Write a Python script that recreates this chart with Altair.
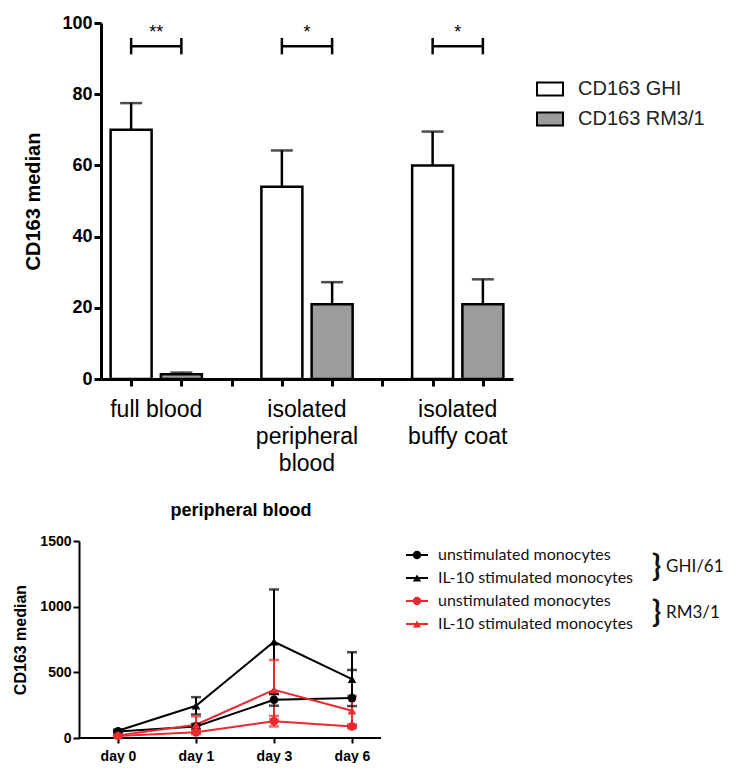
import json
import altair as alt
import pandas as pd

# ---------------- top panel data ----------------
groups = ["full blood", "isolated\nperipheral\nblood", "isolated\nbuffy coat"]
antibodies = ["CD163 GHI", "CD163 RM3/1"]
ghi_means = [70.0, 54.0, 60.0]
ghi_errs = [7.5, 10.2, 9.5]
rm_means = [1.3, 21.0, 21.0]
rm_errs = [0.5, 6.2, 7.0]
sig_labels = ["**", "*", "*"]
sig_level = 93.5
sig_half = 2.3
star_level = 97.3

# ---------------- bottom panel data ----------------
days = ["day 0", "day 1", "day 3", "day 6"]
series_names = ["GHI unstim", "GHI IL-10", "RM unstim", "RM IL-10"]
series_labels = ["unstimulated monocytes", "IL-10 stimulated monocytes",
                 "unstimulated monocytes", "IL-10 stimulated monocytes"]
ghi_unstim = [50, 88, 291, 304]
ghi_unstim_sd = [8, 20, 45, 214]
ghi_il10 = [55, 245, 733, 448]
ghi_il10_sd = [8, 66, 398, 205]
rm_unstim = [15, 43, 128, 88]
rm_unstim_sd = [5, 12, 40, 15]
rm_il10 = [20, 101, 367, 207]
rm_il10_sd = [6, 63, 227, 114]
antibody_groups = ["GHI/61", "RM3/1"]

RED = "#ea2a2f"
GRAY = "#9c9c9e"
FONT = "Liberation Sans"

# ---------------- top panel ----------------
rows = []
for g in range(len(groups)):
    for s, (m, e) in enumerate([(ghi_means[g], ghi_errs[g]), (rm_means[g], rm_errs[g])]):
        rows.append({"pos": 3 * g + s, "mean": m, "top": m + e, "antibody": antibodies[s]})
bars_df = pd.DataFrame(rows)

sig_df = pd.DataFrame({
    "x1": [3 * g for g in range(len(groups))],
    "x2": [3 * g + 1 for g in range(len(groups))],
    "xm": [3 * g + 0.5 for g in range(len(groups))],
    "y": [sig_level] * len(groups),
    "lo": [sig_level - sig_half] * len(groups),
    "hi": [sig_level + sig_half] * len(groups),
    "ys": [star_level] * len(groups),
    "star": sig_labels,
    "label": groups,
})

W1, H1 = 412, 356
xscale1 = alt.Scale(domain=[-0.5, 7.5], nice=False, zero=False)
xaxis1 = alt.Axis(values=list(range(8)), labels=False, title=None, grid=False,
                  tickSize=7, tickWidth=3, tickColor="black", domainWidth=3,
                  domainColor="black")
yscale1 = alt.Scale(domain=[0, 100], nice=False)
yaxis1 = alt.Axis(values=[0, 20, 40, 60, 80, 100], title="CD163 median",
                  titleFont=FONT, labelFont=FONT,
                  titleFontSize=20, titleFontWeight="bold", titleColor="black",
                  labelFontSize=18, labelFontWeight="bold", labelColor="black",
                  tickSize=7, tickWidth=3, tickColor="black", domainWidth=3,
                  domainColor="black", grid=False, titlePadding=18, labelPadding=2)

base1 = alt.Chart(bars_df)
bars = base1.mark_bar(size=41, stroke="black", strokeWidth=2.5).encode(
    x=alt.X("pos:Q", scale=xscale1, axis=xaxis1),
    y=alt.Y("mean:Q", scale=yscale1, axis=yaxis1),
    fill=alt.Fill("antibody:N", scale=alt.Scale(domain=antibodies, range=["white", GRAY]),
                  legend=alt.Legend(title=None, orient="none", legendX=435, legendY=52,
                                    symbolType="M-1,-0.5H1V0.5H-1Z", symbolSize=676,
                                    symbolStrokeColor="black", symbolStrokeWidth=2,
                                    labelFontSize=20, labelColor="#222", labelFont=FONT,
                                    labelOffset=14, rowPadding=5)),
)
err_rule = base1.mark_rule(strokeWidth=2.5, color="black").encode(
    x=alt.X("pos:Q", scale=xscale1, axis=xaxis1),
    y=alt.Y("mean:Q", scale=yscale1, axis=yaxis1), y2="top:Q")
err_cap = base1.mark_tick(orient="horizontal", size=22, thickness=2.5, color="black").encode(
    x=alt.X("pos:Q", scale=xscale1, axis=xaxis1),
    y=alt.Y("top:Q", scale=yscale1, axis=yaxis1))

base_sig = alt.Chart(sig_df)
sig_h = base_sig.mark_rule(strokeWidth=2.5, color="black").encode(
    x=alt.X("x1:Q", scale=xscale1, axis=xaxis1), x2="x2:Q",
    y=alt.Y("y:Q", scale=yscale1, axis=yaxis1))
sig_l = base_sig.mark_rule(strokeWidth=2.5, color="black").encode(
    x=alt.X("x1:Q", scale=xscale1, axis=xaxis1),
    y=alt.Y("lo:Q", scale=yscale1, axis=yaxis1), y2="hi:Q")
sig_r = base_sig.mark_rule(strokeWidth=2.5, color="black").encode(
    x=alt.X("x2:Q", scale=xscale1, axis=xaxis1),
    y=alt.Y("lo:Q", scale=yscale1, axis=yaxis1), y2="hi:Q")
stars = base_sig.mark_text(fontSize=18, baseline="middle", color="black", font=FONT).encode(
    x=alt.X("xm:Q", scale=xscale1, axis=xaxis1),
    y=alt.Y("ys:Q", scale=yscale1, axis=yaxis1), text="star:N")
group_text = base_sig.mark_text(fontSize=23, baseline="top", lineBreak="\n", lineHeight=27,
                                color="black", font=FONT).encode(
    x=alt.X("xm:Q", scale=xscale1, axis=xaxis1), y=alt.value(H1 + 20), text="label:N")

top = alt.layer(bars, err_rule, err_cap, sig_h, sig_l, sig_r, stars, group_text).properties(
    width=W1, height=H1)

# ---------------- bottom panel ----------------
all_means = [ghi_unstim, ghi_il10, rm_unstim, rm_il10]
all_sds = [ghi_unstim_sd, ghi_il10_sd, rm_unstim_sd, rm_il10_sd]
rows = []
for s, name in enumerate(series_names):
    for i, d in enumerate(days):
        m, sd = all_means[s][i], all_sds[s][i]
        rows.append({"di": i, "day": d, "series": name, "mean": m, "lo": m - sd, "hi": m + sd})
line_df = pd.DataFrame(rows)

AX_OFF = 22
W2, H2 = 280, 197
xscale2 = alt.Scale(domain=[-17 / 78, 3 + 29 / 78], nice=False, zero=False)
xaxis2 = alt.Axis(values=[0, 1, 2, 3], labelExpr=json.dumps(days) + "[datum.value]",
                  title=None, grid=False, labelFontSize=14, labelFontWeight="bold",
                  labelFont=FONT, labelColor="black", labelPadding=6, tickSize=5,
                  tickWidth=2, tickColor="black", domain=False)
yscale2 = alt.Scale(domain=[0, 1500], nice=False)
yaxis2 = alt.Axis(values=[0, 500, 1000, 1500], format="d", title="CD163 median",
                  titleFont=FONT, labelFont=FONT, titleFontSize=16,
                  titleFontWeight="bold", titleColor="black", labelFontSize=14,
                  labelFontWeight="bold", labelColor="black", tickSize=6, tickWidth=2,
                  tickColor="black", domainWidth=2, domainColor="black", grid=False,
                  titlePadding=11, labelPadding=2, offset=AX_OFF)
cscale = alt.Scale(domain=series_names, range=["black", "black", RED, RED])
sscale = alt.Scale(domain=series_names, range=["circle", "triangle-up", "circle", "triangle-up"])

base2 = alt.Chart(line_df)
X2 = alt.X("di:Q", scale=xscale2, axis=xaxis2)
col = alt.Color("series:N", scale=cscale, legend=None)
lines = base2.mark_line(strokeWidth=2).encode(
    x=X2, y=alt.Y("mean:Q", scale=yscale2, axis=yaxis2), color=col)
e_rule = base2.mark_rule(strokeWidth=2).encode(
    x=X2, y=alt.Y("lo:Q", scale=yscale2, axis=yaxis2), y2="hi:Q", color=col)
cap_lo = base2.mark_tick(orient="horizontal", size=10, thickness=2.5).encode(
    x=X2, y=alt.Y("lo:Q", scale=yscale2, axis=yaxis2), color=col)
cap_hi = base2.mark_tick(orient="horizontal", size=10, thickness=2.5).encode(
    x=X2, y=alt.Y("hi:Q", scale=yscale2, axis=yaxis2), color=col)
pts = base2.mark_point(filled=True, size=75, opacity=1).encode(
    x=X2, y=alt.Y("mean:Q", scale=yscale2, axis=yaxis2), color=col,
    shape=alt.Shape("series:N", scale=sscale, legend=None))

one = pd.DataFrame({"k": [0]})
# x-axis baseline that reaches the offset y-axis
baseline = alt.Chart(one).mark_rule(strokeWidth=2, color="black").encode(
    x=alt.value(-AX_OFF), x2=alt.value(W2), y=alt.value(H2))

# hand-drawn legend of the bottom panel
leg_layers = []
leg_colors = ["black", "black", RED, RED]
leg_shapes = ["circle", "triangle-up", "circle", "triangle-up"]
LX = -AX_OFF
for r in range(4):
    yy = 14 + 23 * r
    leg_layers.append(alt.Chart(one).mark_rule(strokeWidth=2, color=leg_colors[r]).encode(
        x=alt.value(LX + 327), x2=alt.value(LX + 349), y=alt.value(yy)))
    leg_layers.append(alt.Chart(one).mark_point(filled=True, size=70, opacity=1,
                                                 color=leg_colors[r], shape=leg_shapes[r]).encode(
        x=alt.value(LX + 338), y=alt.value(yy)))
    leg_layers.append(alt.Chart(one).mark_text(text=series_labels[r], align="left",
                                                baseline="middle", fontSize=16, font="Lato",
                                                color="#111").encode(
        x=alt.value(LX + 359), y=alt.value(yy)))
for k in range(2):
    yb = 14 + 23 * (2 * k) + 11.5
    leg_layers.append(alt.Chart(one).mark_text(text="}", align="left", baseline="middle",
                                                fontSize=30, font="Lato", fontWeight="bold",
                                                color="#111").encode(
        x=alt.value(LX + 573), y=alt.value(yb)))
    leg_layers.append(alt.Chart(one).mark_text(text=antibody_groups[k], align="left",
                                                baseline="middle", fontSize=17, font="Lato",
                                                color="#111").encode(
        x=alt.value(LX + 587), y=alt.value(yb)))

bottom = alt.layer(baseline, lines, e_rule, cap_lo, cap_hi, pts, *leg_layers).properties(
    width=W2, height=H2,
    title=alt.TitleParams("peripheral blood", fontSize=18, fontWeight="bold", font=FONT,
                          anchor="middle", offset=14, color="black"))

chart = alt.vconcat(top, bottom, spacing=26).properties(
    padding={"left": 4, "top": 6, "right": 0, "bottom": 0}
).configure(font=FONT, view=alt.ViewConfig(stroke=None))

chart.save("out.html", embed_options={"renderer": "svg", "actions": False})
